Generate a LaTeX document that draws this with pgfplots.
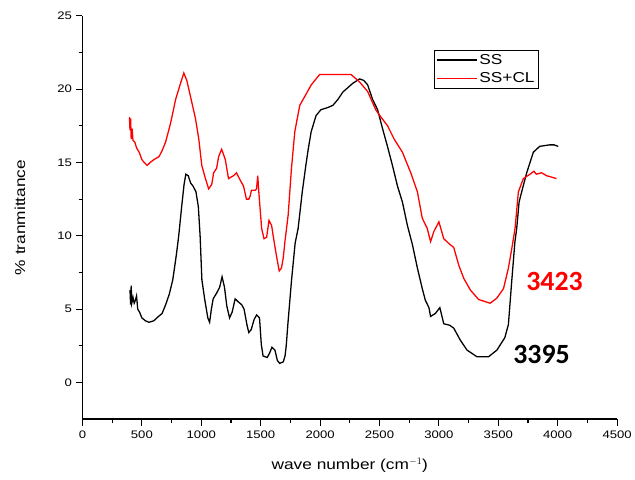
\documentclass[border=0pt]{standalone}
\usepackage{fontspec}
\setmainfont[FakeStretch=1.2]{Liberation Sans}
\newfontfamily\numfont{Carlito}
\usepackage{pgfplots}
\pgfplotsset{compat=1.18}

\definecolor{ssred}{RGB}{255,0,0}

\begin{document}
\begin{tikzpicture}
\begin{axis}[
  scale only axis,
  width=538pt, height=405.7pt,
  xmin=0, xmax=4500, ymin=-2.5, ymax=25,
  axis x line*=bottom, axis y line*=left,
  axis line style={line width=1.2pt, -},
  xtick distance=500, ytick={0,5,10,15,20,25},
  minor x tick num=1, minor y tick num=1,
  tick align=outside,
  major tick length=7pt, minor tick length=4pt,
  every tick/.style={black, line width=1.1pt},
  /pgf/number format/assume math mode=true,
  /pgf/number format/set thousands separator={},
  tick label style={font=\fontsize{11}{13}\selectfont},
  xticklabel style={yshift=-1pt},
  xlabel={wave number (cm$^{-1}$)},
  ylabel={\% tranmittance},
  every axis x label/.style={at={(rel axis cs:0.5,-0.114)}, anchor=center,
    font=\fontsize{14.5}{16}\selectfont},
  every axis y label/.style={at={(rel axis cs:-0.117,0.5)}, rotate=90, anchor=center,
    font=\fontsize{14.5}{16}\selectfont},
  clip=false,
  legend style={at={(rel axis cs:0.657,0.916)}, anchor=north west,
    draw=black, line width=1.2pt, inner xsep=2pt, inner ysep=2pt,
    font=\fontsize{14.5}{16}\selectfont, row sep=3pt,
    cells={anchor=west}},
  legend image code/.code={\draw[#1, line width=1.3pt] (0pt,0pt) -- (40pt,0pt);},
]
% invisible frame fixing the page size
\path (rel axis cs:-0.1543,-0.1511) rectangle (rel axis cs:1.026,1.0394);

\addplot[black, line width=1.3pt] coordinates {
(400,6.3) (405,5.3) (410,6.6) (415,5.4) (425,5.8) (435,5.4) (445,5.6)
(455,5.9) (465,5.0) (480,4.8) (500,4.4) (530,4.2) (560,4.1) (600,4.2)
(640,4.5) (670,4.7) (700,5.3) (730,6.0) (760,7.0) (790,8.7) (810,10.0)
(835,12.0) (855,13.5) (870,14.2) (890,14.1) (910,13.6) (930,13.4)
(955,13.0) (975,12.0) (990,10.0) (1005,7.0) (1030,5.6) (1055,4.4)
(1070,4.1) (1085,5.0) (1100,5.7) (1130,6.1) (1155,6.5) (1175,7.2)
(1195,6.5) (1215,5.2) (1238,4.4) (1260,4.8) (1285,5.7) (1310,5.5)
(1340,5.3) (1360,5.0) (1385,3.9) (1400,3.4) (1420,3.6) (1445,4.3)
(1466,4.6) (1490,4.4) (1505,2.6) (1520,1.8) (1555,1.7) (1575,2.0)
(1595,2.4) (1620,2.2) (1640,1.5) (1660,1.3) (1690,1.4) (1705,1.8)
(1715,2.5) (1730,4.1) (1760,7.0) (1790,9.5) (1815,10.5) (1850,13.0)
(1880,14.8) (1900,15.9) (1925,17.1) (1966,18.2) (2007,18.6) (2066,18.75)
(2108,18.9) (2150,19.3) (2191,19.8) (2233,20.1) (2275,20.4) (2333,20.7)
(2367,20.6) (2400,20.3) (2442,19.3) (2484,18.6) (2526,17.3) (2567,16.1)
(2609,14.8) (2651,13.4) (2693,12.3) (2735,10.7) (2777,9.4) (2819,7.8)
(2860,6.4) (2886,5.6) (2916,5.1) (2930,4.5) (2970,4.7) (3008,5.1)
(3041,4.0) (3090,3.9) (3125,3.7) (3179,2.9) (3237,2.2) (3320,1.75)
(3418,1.75) (3488,2.2) (3555,3.05) (3585,3.95) (3613,6.9) (3640,9.6)
(3655,10.5) (3675,12.3) (3697,13.0) (3739,14.3) (3795,15.7) (3848,16.1)
(3931,16.2) (3970,16.2) (4004,16.1)
};
\addlegendentry{SS}

\addplot[ssred, line width=1.3pt] coordinates {
(395,18.1) (400,17.2) (405,18.0) (410,16.6) (418,17.3) (425,16.5)
(440,16.4) (455,16.0) (477,15.7) (500,15.2) (519,15.0) (544,14.8)
(570,15.0) (602,15.2) (644,15.4) (670,15.8) (700,16.4) (742,17.7)
(784,19.3) (825,20.4) (853,21.1) (878,20.6) (909,19.5) (951,18.0)
(979,16.6) (1004,14.8) (1035,13.9) (1062,13.2) (1088,13.5) (1104,14.3)
(1129,14.6) (1146,15.4) (1171,15.9) (1185,15.6) (1202,15.2) (1229,13.9)
(1250,14.0) (1271,14.1) (1296,14.3) (1327,13.8) (1355,13.4) (1380,12.5)
(1400,12.5) (1411,12.7) (1422,13.1) (1453,13.1) (1465,13.2) (1475,14.1)
(1486,12.8) (1508,10.5) (1528,9.8) (1550,9.9) (1570,11.05) (1592,10.7)
(1605,10.0) (1623,9.1) (1640,8.3) (1656,7.6) (1675,7.8) (1690,8.5)
(1704,9.6) (1731,11.4) (1759,14.6) (1787,17.1) (1829,18.9) (1871,19.5)
(1926,20.3) (1966,20.7) (1996,21.0) (2261,21.0) (2331,20.5) (2400,19.85)
(2468,18.6) (2512,18.1) (2568,17.5) (2623,16.6) (2693,15.7) (2763,14.3)
(2819,13.0) (2860,11.2) (2902,10.5) (2930,9.6) (2958,10.3) (3000,10.95)
(3041,9.8) (3080,9.5) (3125,9.2) (3167,8.0) (3209,7.1) (3265,6.3)
(3335,5.65) (3432,5.4) (3488,5.75) (3544,6.4) (3585,7.8) (3613,9.1)
(3641,10.5) (3669,13.0) (3711,13.9) (3767,14.2) (3800,14.4) (3820,14.2)
(3864,14.3) (3906,14.1) (3950,14.0) (3990,13.9)
};
\addlegendentry{SS+CL}

\node[text=ssred, font=\numfont\bfseries\fontsize{28}{30}\selectfont]
  at (axis cs:3973,6.9) {3423};
\node[text=black, font=\numfont\bfseries\fontsize{28}{30}\selectfont]
  at (axis cs:3864,1.9) {3395};
\end{axis}
\end{tikzpicture}
\end{document}
